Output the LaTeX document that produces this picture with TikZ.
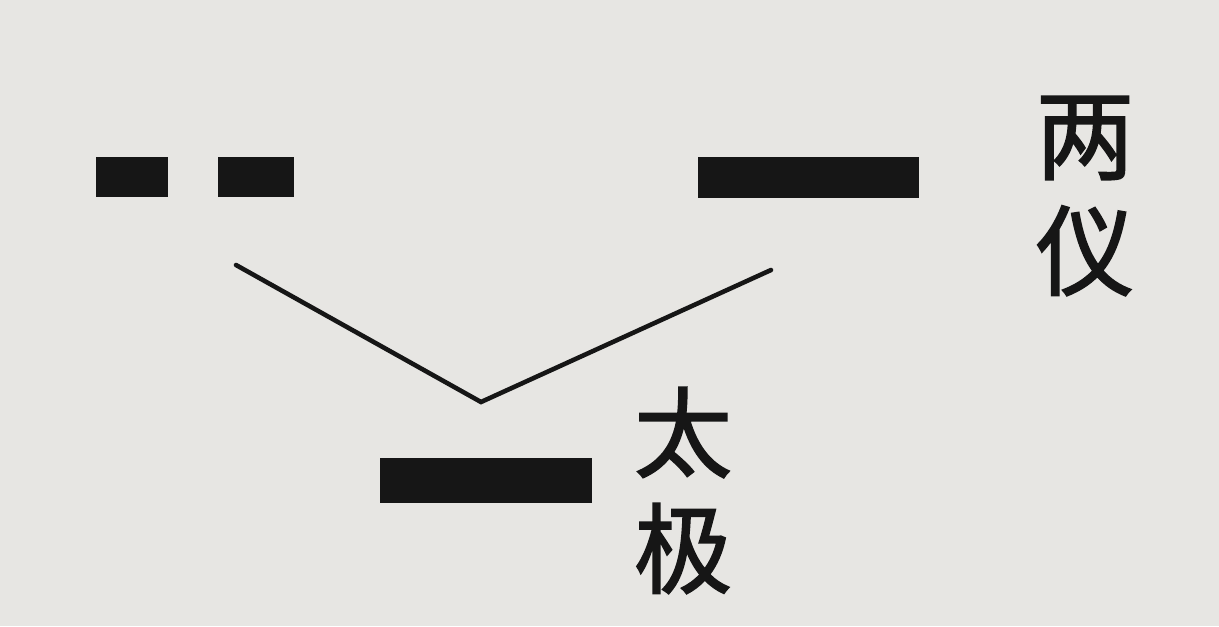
\documentclass[tikz,border=0pt]{standalone}
\usepackage{fontspec}
\newfontfamily\cjk{Noto Sans CJK SC}[FakeBold=1.6]
\usetikzlibrary{positioning}
\definecolor{paper}{RGB}{231,230,227}
\definecolor{ink}{RGB}{22,22,22}

\begin{document}
\begin{tikzpicture}[line cap=round, line join=miter,
	bar/.style={fill=ink, inner sep=0pt, minimum height=0.40cm},
	glyphs/.style={text=ink, inner sep=0pt, align=center,
		font=\cjk\fontsize{28}{33}\selectfont}]

% page
\fill[paper] (0,0) rectangle (12.19,-6.26);
\useasboundingbox (0,0) rectangle (12.19,-6.26);

%========================
% top row: liangyi
%========================
% yin (broken line)
\node[bar, minimum width=0.72cm] (yinl) at (1.32,-1.765) {};
\node[bar, minimum width=0.76cm] (yinr) at (2.56,-1.765) {};
% yang (whole line)
\node[bar, minimum width=2.21cm, minimum height=0.41cm] (yang) at (8.085,-1.775) {};
\node[glyphs] (liangyi) at (10.85,-1.96) {两\\仪};

%========================
% bottom: taiji
%========================
\node[bar, minimum width=2.12cm, minimum height=0.45cm] (taiji) at (4.855,-4.80) {};
\node[glyphs] (taijitxt) at (6.83,-4.905) {太\\极};

% branch lines
\coordinate (yinfoot) at (2.36,-2.65);
\coordinate (yangfoot) at (7.71,-2.70);
\coordinate (root) at (4.81,-4.02);
\draw[ink, line width=1.3pt] (yinfoot) -- (root) -- (yangfoot);

\end{tikzpicture}
\end{document}
